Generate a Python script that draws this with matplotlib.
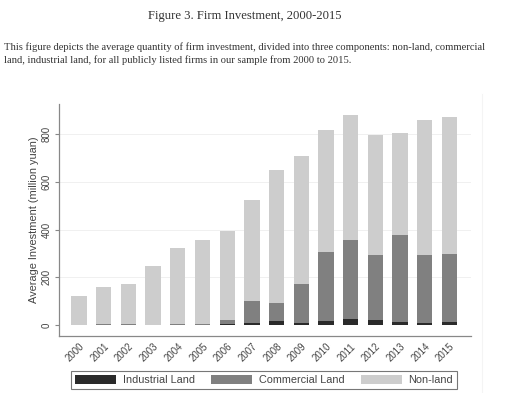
import numpy as np
import matplotlib
matplotlib.use("Agg")
import matplotlib.pyplot as plt
from matplotlib.patches import Patch
from matplotlib.lines import Line2D

# data (million yuan)
years = [str(y) for y in range(2000, 2016)]
industrial = [0, 1, 1, 0, 1, 1, 3, 7, 18, 7, 17, 24, 21, 11, 8, 13]
commercial = [1, 2, 2, 1, 2, 4, 18, 93, 76, 166, 289, 334, 271, 367, 287, 285]
nonland = [122, 156, 170, 245, 319, 353, 375, 426, 558, 536, 511, 525, 507, 426, 564, 576]

labels = ["Industrial Land", "Commercial Land", "Non-land"]
colors = ["#2a2a2a", "#808080", "#cdcdcd"]

plt.rcParams['font.family'] = ['Liberation Sans', 'DejaVu Sans']

fig = plt.figure(figsize=(5.3, 3.93), dpi=100)
fig.patch.set_facecolor("white")

# header text
fig.text(0.462, 0.960, "Figure 3. Firm Investment, 2000-2015", ha="center", va="center",
         family="Liberation Serif", fontsize=9.1, color="#333333")
fig.text(0.008, 0.863,
         "This figure depicts the average quantity of firm investment, divided into three components: non-land, commercial\n"
         "land, industrial land, for all publicly listed firms in our sample from 2000 to 2015.",
         ha="left", va="center", family="Liberation Serif", fontsize=7.6, color="#333333",
         linespacing=1.45)

ax = fig.add_axes([0.111, 0.146, 0.778, 0.589])

x = np.arange(len(years))
ind = np.array(industrial)
com = np.array(commercial)
non = np.array(nonland)
w = 0.62
ax.bar(x, ind, width=w, color=colors[0], zorder=3)
ax.bar(x, com, width=w, bottom=ind, color=colors[1], zorder=3)
ax.bar(x, non, width=w, bottom=ind + com, color=colors[2], zorder=3)

ax.set_xlim(-0.82, 15.88)
ax.set_ylim(-45, 927)
ax.set_yticks([0, 200, 400, 600, 800])
ax.set_yticklabels(["0", "200", "400", "600", "800"], rotation=90, va="center",
                   fontsize=7, color="#444444")
ax.set_xticks(x)
ax.set_xticklabels(years, rotation=45, ha="right", rotation_mode="anchor",
                   fontsize=6.9, color="#444444")
ax.tick_params(axis="x", length=0, pad=4)
ax.tick_params(axis="y", length=3, color="#888888", pad=2)
ax.set_ylabel("Average Investment (million yuan)", fontsize=7.9, color="#444444", labelpad=2)

for yv in [200, 400, 600, 800]:
    ax.axhline(yv, color="#eeeeee", lw=0.6, zorder=1)

for s in ["top", "right"]:
    ax.spines[s].set_visible(False)
for s in ["left", "bottom"]:
    ax.spines[s].set_color("#888888")
    ax.spines[s].set_linewidth(0.9)

handles = [Patch(facecolor=c, edgecolor="none") for c in colors]
leg = fig.legend(handles, labels, ncol=3, loc="center", bbox_to_anchor=(0.498, 0.033),
                 fontsize=7.8, frameon=True, fancybox=False, edgecolor="#555555",
                 handlelength=3.8, handleheight=1.0, columnspacing=1.5, handletextpad=0.6,
                 borderpad=0.35, borderaxespad=0)
leg.get_frame().set_linewidth(0.8)
for t in leg.get_texts():
    t.set_color("#444444")

# faint outer graph-region edge on the right
fig.add_artist(Line2D([0.909, 0.909], [0.0, 0.76], transform=fig.transFigure,
                      color="#f4f4f4", lw=0.8))

fig.savefig("out.png", dpi=100)
